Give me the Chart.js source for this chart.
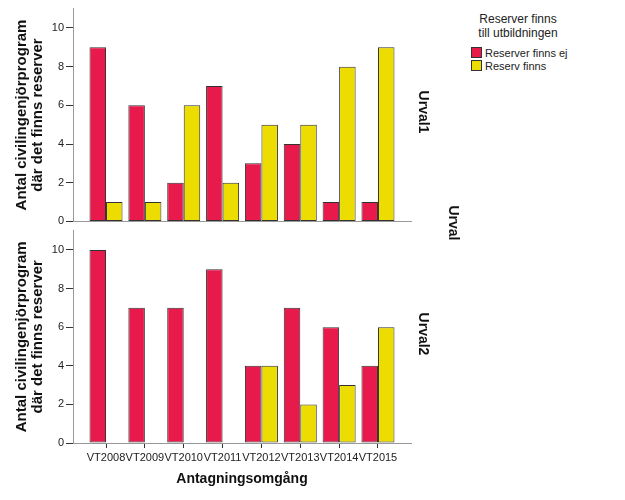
<!DOCTYPE html>
<html>
<head>
<meta charset="utf-8">
<script src="https://cdn.jsdelivr.net/npm/chart.js@4"></script>
<style>
  body { margin: 0; background: #fff; font-family: 'Liberation Sans', Arial, sans-serif; color: #222; }
  #wrap { position: relative; width: 625px; height: 500px; overflow: hidden; }
  canvas { position: absolute; left: 0; }
  .rot { position: absolute; font-weight: bold; font-size: 14px; color: #111; transform: translate(-50%, -50%) rotate(90deg); white-space: nowrap; }
  #legend { position: absolute; left: 468px; top: 12px; font-size: 11px; }
  #legend .ttl { position: absolute; left: 0; width: 100px; text-align: center; font-size: 12px; line-height: 14px; }
  #legend .item { position: absolute; left: 3px; white-space: nowrap; line-height: 12px; }
  #legend .box { display: inline-block; width: 9px; height: 9px; border: 1px solid #333; vertical-align: -1px; margin-right: 3px; }
</style>
</head>
<body>
<div id="wrap">
  <canvas id="c1" width="430" height="230" style="top:0"></canvas>
  <canvas id="c2" width="430" height="278" style="top:222px"></canvas>
  <div class="rot" style="left:424px; top:112px">Urval1</div>
  <div class="rot" style="left:424px; top:334px">Urval2</div>
  <div class="rot" style="left:454px; top:223px">Urval</div>
  <div id="legend"></div>
</div>
<script>
// data
const categories = ['VT2008','VT2009','VT2010','VT2011','VT2012','VT2013','VT2014','VT2015'];
const seriesNames = ['Reserver finns ej', 'Reserv finns'];
const urval1Ej = [9, 6, 2, 7, 3, 4, 1, 1];
const urval1Finns = [1, 1, 6, 2, 5, 5, 8, 9];
const urval2Ej = [10, 7, 7, 9, 4, 7, 6, 4];
const urval2Finns = [0, 0, 0, 0, 4, 2, 3, 6];
const yTicks = [0, 2, 4, 6, 8, 10];
const legendTitle = ['Reserver finns', 'till utbildningen'];
const yTitle = ['Antal civilingenjörprogram', 'där det finns reserver'];
const xTitle = 'Antagningsomgång';

const RED = '#e8194b';
const YEL = '#eddc00';
const FONT = "'Liberation Sans', Arial, sans-serif";

// zero counts are not drawn as bars
function makeDatasets(ej, finns) {
  return [ej, finns].map((d, i) => ({
    label: seriesNames[i],
    data: d.map((v, k) => ({ x: k, y: v === 0 ? null : v })),
    backgroundColor: i === 0 ? RED : YEL,
    borderColor: '#333',
    borderWidth: 1,
    borderSkipped: false,
    categoryPercentage: 0.85,
    barPercentage: 1
  }));
}

function makeChart(id, ej, finns, bottom) {
  return new Chart(document.getElementById(id), {
    type: 'bar',
    data: { datasets: makeDatasets(ej, finns) },
    options: {
      responsive: false,
      animation: false,
      layout: { padding: { top: 6, right: 19, left: 0, bottom: 0 } },
      plugins: { legend: { display: false }, tooltip: { enabled: false } },
      scales: {
        x: {
          type: 'linear',
          min: -0.85, max: categories.length - 1 + 0.85,
          offset: false,
          afterFit: s => { s.height = bottom ? 57 : 8; },
          afterBuildTicks: s => { s.ticks = categories.map((c, i) => ({ value: i })); },
          grid: { display: bottom, drawOnChartArea: false, offset: false, tickLength: 5, color: '#333' },
          border: { color: '#999' },
          ticks: {
            display: bottom, maxRotation: 0, autoSkip: false, padding: 3, color: '#222',
            font: { family: FONT, size: 11 },
            callback: v => categories[v]
          },
          title: { display: bottom, text: xTitle, color: '#111', padding: { top: 0, bottom: 12 }, font: { family: FONT, size: 14, weight: 'bold' } }
        },
        y: {
          min: 0, max: 11,
          afterFit: s => { s.width = 73; },
          afterBuildTicks: s => { s.ticks = yTicks.map(v => ({ value: v })); },
          grid: { drawOnChartArea: false, tickLength: 7, color: '#333' },
          border: { color: '#999' },
          ticks: { padding: 2, color: '#222', font: { family: FONT, size: 11 } },
          title: { display: true, text: yTitle, color: '#111', padding: { top: 14, bottom: 0 }, font: { family: FONT, size: 15, weight: 'bold', lineHeight: '16px' } }
        }
      }
    }
  });
}

makeChart('c1', urval1Ej, urval1Finns, false);
makeChart('c2', urval2Ej, urval2Finns, true);

// legend
const lg = document.getElementById('legend');
legendTitle.forEach((t, i) => {
  const d = document.createElement('div');
  d.className = 'ttl'; d.style.top = (i * 14) + 'px'; d.textContent = t;
  lg.appendChild(d);
});
seriesNames.forEach((n, i) => {
  const d = document.createElement('div');
  d.className = 'item'; d.style.top = (35 + i * 13) + 'px';
  d.innerHTML = '<span class="box" style="background:' + (i === 0 ? RED : YEL) + '"></span>';
  d.appendChild(document.createTextNode(n));
  lg.appendChild(d);
});
</script>
</body>
</html>
